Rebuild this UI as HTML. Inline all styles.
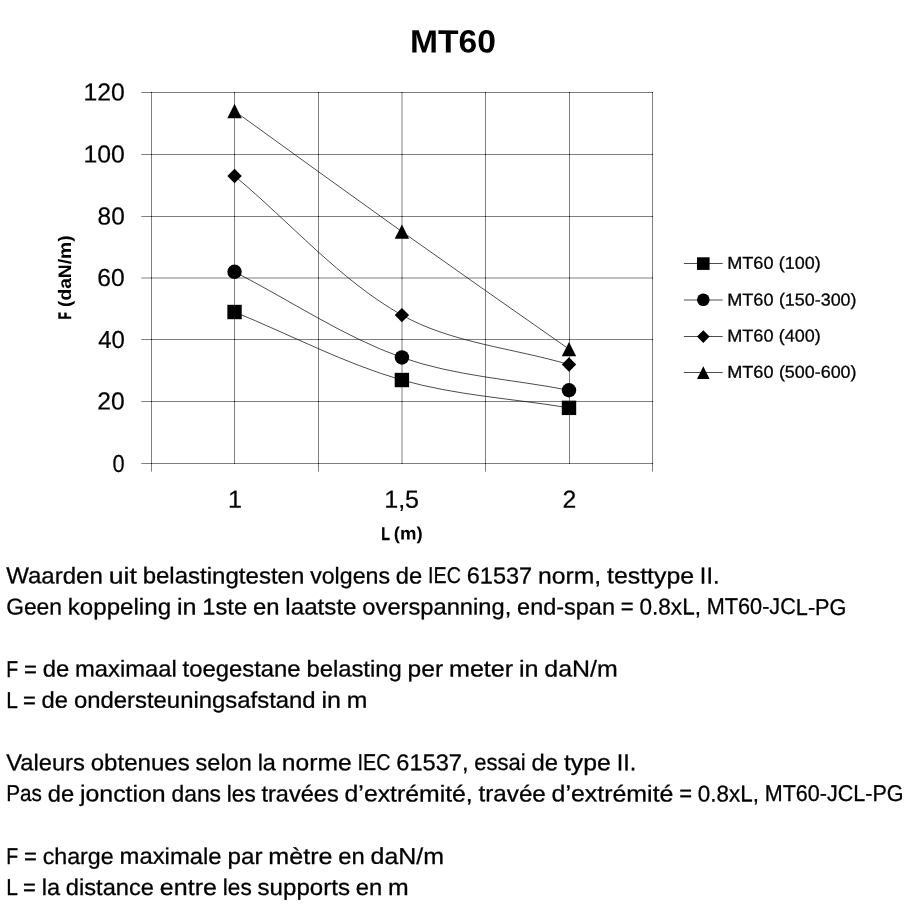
<!DOCTYPE html>
<html lang="nl"><head><meta charset="utf-8"><title>MT60</title>
<style>html,body{margin:0;padding:0;background:#fff;width:908px;height:908px;overflow:hidden}svg{display:block}text{font-family:"Liberation Sans",sans-serif;fill:#000;white-space:pre;text-rendering:geometricPrecision}</style></head><body>
<svg width="908" height="908" viewBox="0 0 908 908" role="img" aria-label="MT60">
<rect width="908" height="908" fill="#fff"/>
<g stroke="#000" stroke-opacity="0.5" stroke-width="1" fill="none">
<line x1="141.3" y1="463.5" x2="653" y2="463.5"/>
<line x1="141.3" y1="401.5" x2="653" y2="401.5"/>
<line x1="141.3" y1="339.5" x2="653" y2="339.5"/>
<line x1="141.3" y1="278.0" x2="653" y2="278.0"/>
<line x1="141.3" y1="216.5" x2="653" y2="216.5"/>
<line x1="141.3" y1="154.5" x2="653" y2="154.5"/>
<line x1="141.3" y1="92.5" x2="653" y2="92.5"/>
<line x1="151.5" y1="92" x2="151.5" y2="471.6"/>
<line x1="234.5" y1="92" x2="234.5" y2="463.5"/>
<line x1="318.5" y1="92" x2="318.5" y2="471.6"/>
<line x1="402.0" y1="92" x2="402.0" y2="463.5"/>
<line x1="485.5" y1="92" x2="485.5" y2="471.6"/>
<line x1="569.5" y1="92" x2="569.5" y2="463.5"/>
<line x1="652.5" y1="92" x2="652.5" y2="471.6"/>
</g>
<g fill="#000" fill-opacity="0.6">
<rect x="151.0" y="463.0" width="1" height="1"/>
<rect x="234.0" y="463.0" width="1" height="1"/>
<rect x="318.0" y="463.0" width="1" height="1"/>
<rect x="401.5" y="463.0" width="1" height="1"/>
<rect x="485.0" y="463.0" width="1" height="1"/>
<rect x="569.0" y="463.0" width="1" height="1"/>
<rect x="652.0" y="463.0" width="1" height="1"/>
<rect x="151.0" y="401.0" width="1" height="1"/>
<rect x="234.0" y="401.0" width="1" height="1"/>
<rect x="318.0" y="401.0" width="1" height="1"/>
<rect x="401.5" y="401.0" width="1" height="1"/>
<rect x="485.0" y="401.0" width="1" height="1"/>
<rect x="569.0" y="401.0" width="1" height="1"/>
<rect x="652.0" y="401.0" width="1" height="1"/>
<rect x="151.0" y="339.0" width="1" height="1"/>
<rect x="234.0" y="339.0" width="1" height="1"/>
<rect x="318.0" y="339.0" width="1" height="1"/>
<rect x="401.5" y="339.0" width="1" height="1"/>
<rect x="485.0" y="339.0" width="1" height="1"/>
<rect x="569.0" y="339.0" width="1" height="1"/>
<rect x="652.0" y="339.0" width="1" height="1"/>
<rect x="151.0" y="277.5" width="1" height="1"/>
<rect x="234.0" y="277.5" width="1" height="1"/>
<rect x="318.0" y="277.5" width="1" height="1"/>
<rect x="401.5" y="277.5" width="1" height="1"/>
<rect x="485.0" y="277.5" width="1" height="1"/>
<rect x="569.0" y="277.5" width="1" height="1"/>
<rect x="652.0" y="277.5" width="1" height="1"/>
<rect x="151.0" y="216.0" width="1" height="1"/>
<rect x="234.0" y="216.0" width="1" height="1"/>
<rect x="318.0" y="216.0" width="1" height="1"/>
<rect x="401.5" y="216.0" width="1" height="1"/>
<rect x="485.0" y="216.0" width="1" height="1"/>
<rect x="569.0" y="216.0" width="1" height="1"/>
<rect x="652.0" y="216.0" width="1" height="1"/>
<rect x="151.0" y="154.0" width="1" height="1"/>
<rect x="234.0" y="154.0" width="1" height="1"/>
<rect x="318.0" y="154.0" width="1" height="1"/>
<rect x="401.5" y="154.0" width="1" height="1"/>
<rect x="485.0" y="154.0" width="1" height="1"/>
<rect x="569.0" y="154.0" width="1" height="1"/>
<rect x="652.0" y="154.0" width="1" height="1"/>
<rect x="151.0" y="92.0" width="1" height="1"/>
<rect x="234.0" y="92.0" width="1" height="1"/>
<rect x="318.0" y="92.0" width="1" height="1"/>
<rect x="401.5" y="92.0" width="1" height="1"/>
<rect x="485.0" y="92.0" width="1" height="1"/>
<rect x="569.0" y="92.0" width="1" height="1"/>
<rect x="652.0" y="92.0" width="1" height="1"/>
</g>
<g fill="none" stroke="#000" stroke-opacity="0.7" stroke-width="1">
<path d="M234.55,312.01 C290.33,334.68 344.37,363.54 401.90,380.02 C455.85,395.49 513.30,398.57 569.00,407.85"/>
<path d="M234.55,271.82 C290.33,300.36 343.40,336.75 401.90,357.46 C454.89,376.22 513.30,379.30 569.00,390.23"/>
<path d="M234.55,175.98 C290.33,222.35 339.99,280.19 401.90,315.10 C451.47,343.05 513.30,348.08 569.00,364.57"/>
<path d="M234.55,111.05 C290.33,151.24 345.89,191.76 401.90,231.62 C457.37,271.11 513.30,309.95 569.00,349.11"/>
</g>
<rect x="227.35" y="304.81" width="14.40" height="14.40"/>
<rect x="394.70" y="372.82" width="14.40" height="14.40"/>
<rect x="561.80" y="400.65" width="14.40" height="14.40"/>
<circle cx="234.55" cy="271.82" r="7.20"/>
<circle cx="401.90" cy="357.46" r="7.20"/>
<circle cx="569.00" cy="390.23" r="7.20"/>
<path d="M234.55,168.78 L241.75,175.98 L234.55,183.18 L227.35,175.98Z"/>
<path d="M401.90,307.90 L409.10,315.10 L401.90,322.30 L394.70,315.10Z"/>
<path d="M569.00,357.37 L576.20,364.57 L569.00,371.77 L561.80,364.57Z"/>
<path d="M234.55,103.85 L241.75,118.25 L227.35,118.25Z"/>
<path d="M401.90,224.43 L409.10,238.82 L394.70,238.82Z"/>
<path d="M569.00,341.91 L576.20,356.31 L561.80,356.31Z"/>
<g fill="none" stroke="#000" stroke-opacity="0.7" stroke-width="1">
<line x1="683.9" y1="263.5" x2="722.7" y2="263.5"/>
<line x1="683.9" y1="300.0" x2="722.7" y2="300.0"/>
<line x1="683.9" y1="336.5" x2="722.7" y2="336.5"/>
<line x1="683.9" y1="372.5" x2="722.7" y2="372.5"/>
</g>
<rect x="697.00" y="257.30" width="12.60" height="12.60"/>
<circle cx="703.30" cy="299.70" r="6.30"/>
<path d="M703.30,330.30 L709.60,336.60 L703.30,342.90 L697.00,336.60Z"/>
<path d="M703.30,366.30 L709.60,378.90 L697.00,378.90Z"/>
<text font-size="32.2" font-weight="bold" transform="matrix(1,0.0005,0,1,0,0)"><tspan x="409.95" y="52.22" textLength="85.99" lengthAdjust="spacingAndGlyphs">MT60</tspan></text>
<text font-size="24.7" transform="matrix(1,0.0005,0,1,0,0)" stroke="#000" stroke-width="0.22"><tspan x="112.53" y="471.54" textLength="12.13" lengthAdjust="spacingAndGlyphs">0</tspan></text>
<text font-size="24.7" transform="matrix(1,0.0005,0,1,0,0)" stroke="#000" stroke-width="0.22"><tspan x="97.36" y="409.54" textLength="27.39" lengthAdjust="spacingAndGlyphs">20</tspan></text>
<text font-size="24.7" transform="matrix(1,0.0005,0,1,0,0)" stroke="#000" stroke-width="0.22"><tspan x="98.13" y="347.54" textLength="26.60" lengthAdjust="spacingAndGlyphs">40</tspan></text>
<text font-size="24.7" transform="matrix(1,0.0005,0,1,0,0)" stroke="#000" stroke-width="0.22"><tspan x="97.36" y="286.04" textLength="27.39" lengthAdjust="spacingAndGlyphs">60</tspan></text>
<text font-size="24.7" transform="matrix(1,0.0005,0,1,0,0)" stroke="#000" stroke-width="0.22"><tspan x="97.62" y="224.54" textLength="27.12" lengthAdjust="spacingAndGlyphs">80</tspan></text>
<text font-size="24.7" transform="matrix(1,0.0005,0,1,0,0)" stroke="#000" stroke-width="0.22"><tspan x="83.40" y="162.55" textLength="41.34" lengthAdjust="spacingAndGlyphs">100</tspan></text>
<text font-size="24.7" transform="matrix(1,0.0005,0,1,0,0)" stroke="#000" stroke-width="0.22"><tspan x="83.40" y="100.55" textLength="41.34" lengthAdjust="spacingAndGlyphs">120</tspan></text>
<text font-size="24.7" transform="matrix(1,0.0005,0,1,0,0)" stroke="#000" stroke-width="0.22"><tspan x="227.98" y="507.58" textLength="13.97" lengthAdjust="spacingAndGlyphs">1</tspan></text>
<text font-size="24.7" transform="matrix(1,0.0005,0,1,0,0)" stroke="#000" stroke-width="0.22"><tspan x="384.18" y="507.50" textLength="34.91" lengthAdjust="spacingAndGlyphs">1,5</tspan></text>
<text font-size="24.7" transform="matrix(1,0.0005,0,1,0,0)" stroke="#000" stroke-width="0.22"><tspan x="562.56" y="507.42" textLength="13.77" lengthAdjust="spacingAndGlyphs">2</tspan></text>
<text font-size="18.1" font-weight="bold" transform="matrix(1,0.0005,0,1,0,0)"><tspan stroke="#000" stroke-width="0.45" x="381.33" y="539.41" textLength="8.37" lengthAdjust="spacingAndGlyphs">L</tspan> <tspan x="393.78" y="539.40" textLength="28.84" lengthAdjust="spacingAndGlyphs">(m)</tspan></text>
<text font-size="18.1" font-weight="bold" transform="translate(71.2,318.6) rotate(-90)"><tspan stroke="#000" stroke-width="0.45" x="-0.57" y="0.00" textLength="7.00" lengthAdjust="spacingAndGlyphs">F</tspan> <tspan x="11.64" y="0.00" textLength="71.58" lengthAdjust="spacingAndGlyphs">(daN/m)</tspan></text>
<text font-size="17.2" transform="matrix(1,0.0005,0,1,0,0)" stroke="#000" stroke-width="0.28"><tspan x="727.16" y="268.42" textLength="46.33" lengthAdjust="spacingAndGlyphs">MT60</tspan> <tspan x="778.89" y="268.40" textLength="41.94" lengthAdjust="spacingAndGlyphs">(100)</tspan></text>
<text font-size="17.2" transform="matrix(1,0.0005,0,1,0,0)" stroke="#000" stroke-width="0.28"><tspan x="727.16" y="305.02" textLength="46.33" lengthAdjust="spacingAndGlyphs">MT60</tspan> <tspan x="778.90" y="304.99" textLength="77.64" lengthAdjust="spacingAndGlyphs">(150-300)</tspan></text>
<text font-size="17.2" transform="matrix(1,0.0005,0,1,0,0)" stroke="#000" stroke-width="0.28"><tspan x="727.16" y="341.12" textLength="46.33" lengthAdjust="spacingAndGlyphs">MT60</tspan> <tspan x="778.89" y="341.10" textLength="41.94" lengthAdjust="spacingAndGlyphs">(400)</tspan></text>
<text font-size="17.2" transform="matrix(1,0.0005,0,1,0,0)" stroke="#000" stroke-width="0.28"><tspan x="727.16" y="377.42" textLength="46.33" lengthAdjust="spacingAndGlyphs">MT60</tspan> <tspan x="778.90" y="377.39" textLength="77.64" lengthAdjust="spacingAndGlyphs">(500-600)</tspan></text>
<text font-size="22.9" transform="matrix(1,0.0005,0,1,0,0)" stroke="#000" stroke-width="0.28"><tspan x="6.20" y="583.37" textLength="96.65" lengthAdjust="spacingAndGlyphs">Waarden</tspan> <tspan x="108.68" y="583.34" textLength="28.13" lengthAdjust="spacingAndGlyphs">uit</tspan> <tspan x="142.65" y="583.29" textLength="161.69" lengthAdjust="spacingAndGlyphs">belastingtesten</tspan> <tspan x="310.17" y="583.22" textLength="79.84" lengthAdjust="spacingAndGlyphs">volgens</tspan> <tspan x="395.84" y="583.20" textLength="26.40" lengthAdjust="spacingAndGlyphs">de</tspan> <tspan x="428.08" y="583.18" textLength="32.87" lengthAdjust="spacingAndGlyphs">IEC</tspan> <tspan x="466.78" y="583.15" textLength="65.41" lengthAdjust="spacingAndGlyphs">61537</tspan> <tspan x="538.02" y="583.12" textLength="63.23" lengthAdjust="spacingAndGlyphs">norm,</tspan> <tspan x="607.09" y="583.07" textLength="86.96" lengthAdjust="spacingAndGlyphs">testtype</tspan> <tspan x="699.88" y="583.05" textLength="19.52" lengthAdjust="spacingAndGlyphs">II.</tspan></text>
<text font-size="22.9" transform="matrix(1,0.0005,0,1,0,0)" stroke="#000" stroke-width="0.28"><tspan x="6.20" y="614.48" textLength="55.74" lengthAdjust="spacingAndGlyphs">Geen</tspan> <tspan x="67.80" y="614.44" textLength="103.26" lengthAdjust="spacingAndGlyphs">koppeling</tspan> <tspan x="176.91" y="614.41" textLength="19.56" lengthAdjust="spacingAndGlyphs">in</tspan> <tspan x="202.32" y="614.39" textLength="44.83" lengthAdjust="spacingAndGlyphs">1ste</tspan> <tspan x="253.02" y="614.37" textLength="26.50" lengthAdjust="spacingAndGlyphs">en</tspan> <tspan x="285.38" y="614.34" textLength="71.15" lengthAdjust="spacingAndGlyphs">laatste</tspan> <tspan x="362.38" y="614.28" textLength="148.89" lengthAdjust="spacingAndGlyphs">overspanning,</tspan> <tspan x="517.13" y="614.22" textLength="97.82" lengthAdjust="spacingAndGlyphs">end-span</tspan> <tspan x="620.80" y="614.19" textLength="12.90" lengthAdjust="spacingAndGlyphs">=</tspan> <tspan x="639.56" y="614.16" textLength="61.38" lengthAdjust="spacingAndGlyphs">0.8xL,</tspan> <tspan x="706.80" y="614.11" textLength="139.60" lengthAdjust="spacingAndGlyphs">MT60-JCL-PG</tspan></text>
<text font-size="22.9" transform="matrix(1,0.0005,0,1,0,0)" stroke="#000" stroke-width="0.28"><tspan x="6.20" y="676.59" textLength="11.90" lengthAdjust="spacingAndGlyphs">F</tspan> <tspan x="23.95" y="676.58" textLength="12.90" lengthAdjust="spacingAndGlyphs">=</tspan> <tspan x="42.70" y="676.57" textLength="26.49" lengthAdjust="spacingAndGlyphs">de</tspan> <tspan x="75.04" y="676.54" textLength="101.68" lengthAdjust="spacingAndGlyphs">maximaal</tspan> <tspan x="182.57" y="676.48" textLength="117.97" lengthAdjust="spacingAndGlyphs">toegestane</tspan> <tspan x="306.40" y="676.42" textLength="95.37" lengthAdjust="spacingAndGlyphs">belasting</tspan> <tspan x="407.62" y="676.39" textLength="35.51" lengthAdjust="spacingAndGlyphs">per</tspan> <tspan x="448.99" y="676.36" textLength="64.15" lengthAdjust="spacingAndGlyphs">meter</tspan> <tspan x="518.99" y="676.34" textLength="19.55" lengthAdjust="spacingAndGlyphs">in</tspan> <tspan x="544.39" y="676.31" textLength="73.41" lengthAdjust="spacingAndGlyphs">daN/m</tspan></text>
<text font-size="22.9" transform="matrix(1,0.0005,0,1,0,0)" stroke="#000" stroke-width="0.28"><tspan x="6.20" y="707.79" textLength="10.86" lengthAdjust="spacingAndGlyphs">L</tspan> <tspan x="22.91" y="707.79" textLength="12.87" lengthAdjust="spacingAndGlyphs">=</tspan> <tspan x="41.62" y="707.77" textLength="26.44" lengthAdjust="spacingAndGlyphs">de</tspan> <tspan x="73.90" y="707.70" textLength="241.77" lengthAdjust="spacingAndGlyphs">ondersteuningsafstand</tspan> <tspan x="321.51" y="707.63" textLength="19.51" lengthAdjust="spacingAndGlyphs">in</tspan> <tspan x="346.86" y="707.62" textLength="20.64" lengthAdjust="spacingAndGlyphs">m</tspan></text>
<text font-size="22.9" transform="matrix(1,0.0005,0,1,0,0)" stroke="#000" stroke-width="0.28"><tspan x="6.20" y="770.18" textLength="78.67" lengthAdjust="spacingAndGlyphs">Valeurs</tspan> <tspan x="90.72" y="770.13" textLength="99.02" lengthAdjust="spacingAndGlyphs">obtenues</tspan> <tspan x="195.59" y="770.09" textLength="56.20" lengthAdjust="spacingAndGlyphs">selon</tspan> <tspan x="257.65" y="770.07" textLength="18.34" lengthAdjust="spacingAndGlyphs">la</tspan> <tspan x="281.84" y="770.04" textLength="69.84" lengthAdjust="spacingAndGlyphs">norme</tspan> <tspan x="357.54" y="770.01" textLength="32.97" lengthAdjust="spacingAndGlyphs">IEC</tspan> <tspan x="396.36" y="769.98" textLength="72.07" lengthAdjust="spacingAndGlyphs">61537,</tspan> <tspan x="474.28" y="769.95" textLength="51.47" lengthAdjust="spacingAndGlyphs">essai</tspan> <tspan x="531.61" y="769.93" textLength="26.48" lengthAdjust="spacingAndGlyphs">de</tspan> <tspan x="563.94" y="769.91" textLength="46.87" lengthAdjust="spacingAndGlyphs">type</tspan> <tspan x="616.67" y="769.89" textLength="19.58" lengthAdjust="spacingAndGlyphs">II.</tspan></text>
<text font-size="22.9" transform="matrix(1,0.0005,0,1,0,0)" stroke="#000" stroke-width="0.28"><tspan x="6.20" y="801.39" textLength="35.72" lengthAdjust="spacingAndGlyphs">Pas</tspan> <tspan x="47.74" y="801.37" textLength="26.35" lengthAdjust="spacingAndGlyphs">de</tspan> <tspan x="79.91" y="801.34" textLength="85.82" lengthAdjust="spacingAndGlyphs">jonction</tspan> <tspan x="171.56" y="801.30" textLength="49.48" lengthAdjust="spacingAndGlyphs">dans</tspan> <tspan x="226.86" y="801.28" textLength="28.80" lengthAdjust="spacingAndGlyphs">les</tspan> <tspan x="261.48" y="801.25" textLength="77.28" lengthAdjust="spacingAndGlyphs">travées</tspan> <tspan x="344.58" y="801.20" textLength="128.19" lengthAdjust="spacingAndGlyphs">d’extrémité,</tspan> <tspan x="478.60" y="801.14" textLength="67.21" lengthAdjust="spacingAndGlyphs">travée</tspan> <tspan x="551.63" y="801.09" textLength="121.77" lengthAdjust="spacingAndGlyphs">d’extrémité</tspan> <tspan x="679.22" y="801.06" textLength="12.83" lengthAdjust="spacingAndGlyphs">=</tspan> <tspan x="697.87" y="801.04" textLength="61.02" lengthAdjust="spacingAndGlyphs">0.8xL,</tspan> <tspan x="764.72" y="800.98" textLength="138.78" lengthAdjust="spacingAndGlyphs">MT60-JCL-PG</tspan></text>
<text font-size="22.9" transform="matrix(1,0.0005,0,1,0,0)" stroke="#000" stroke-width="0.28"><tspan x="6.20" y="863.89" textLength="11.89" lengthAdjust="spacingAndGlyphs">F</tspan> <tspan x="23.94" y="863.88" textLength="12.89" lengthAdjust="spacingAndGlyphs">=</tspan> <tspan x="42.68" y="863.86" textLength="71.01" lengthAdjust="spacingAndGlyphs">charge</tspan> <tspan x="119.54" y="863.81" textLength="102.10" lengthAdjust="spacingAndGlyphs">maximale</tspan> <tspan x="227.49" y="863.78" textLength="35.01" lengthAdjust="spacingAndGlyphs">par</tspan> <tspan x="268.35" y="863.75" textLength="64.11" lengthAdjust="spacingAndGlyphs">mètre</tspan> <tspan x="338.32" y="863.72" textLength="26.47" lengthAdjust="spacingAndGlyphs">en</tspan> <tspan x="370.64" y="863.70" textLength="73.36" lengthAdjust="spacingAndGlyphs">daN/m</tspan></text>
<text font-size="22.9" transform="matrix(1,0.0005,0,1,0,0)" stroke="#000" stroke-width="0.28"><tspan x="6.20" y="895.09" textLength="10.88" lengthAdjust="spacingAndGlyphs">L</tspan> <tspan x="22.93" y="895.09" textLength="12.89" lengthAdjust="spacingAndGlyphs">=</tspan> <tspan x="41.68" y="895.07" textLength="18.34" lengthAdjust="spacingAndGlyphs">la</tspan> <tspan x="65.86" y="895.05" textLength="88.15" lengthAdjust="spacingAndGlyphs">distance</tspan> <tspan x="159.87" y="895.01" textLength="57.05" lengthAdjust="spacingAndGlyphs">entre</tspan> <tspan x="222.77" y="894.98" textLength="28.94" lengthAdjust="spacingAndGlyphs">les</tspan> <tspan x="257.56" y="894.95" textLength="92.38" lengthAdjust="spacingAndGlyphs">supports</tspan> <tspan x="355.80" y="894.92" textLength="26.48" lengthAdjust="spacingAndGlyphs">en</tspan> <tspan x="388.12" y="894.90" textLength="20.68" lengthAdjust="spacingAndGlyphs">m</tspan></text>
</svg></body></html>
